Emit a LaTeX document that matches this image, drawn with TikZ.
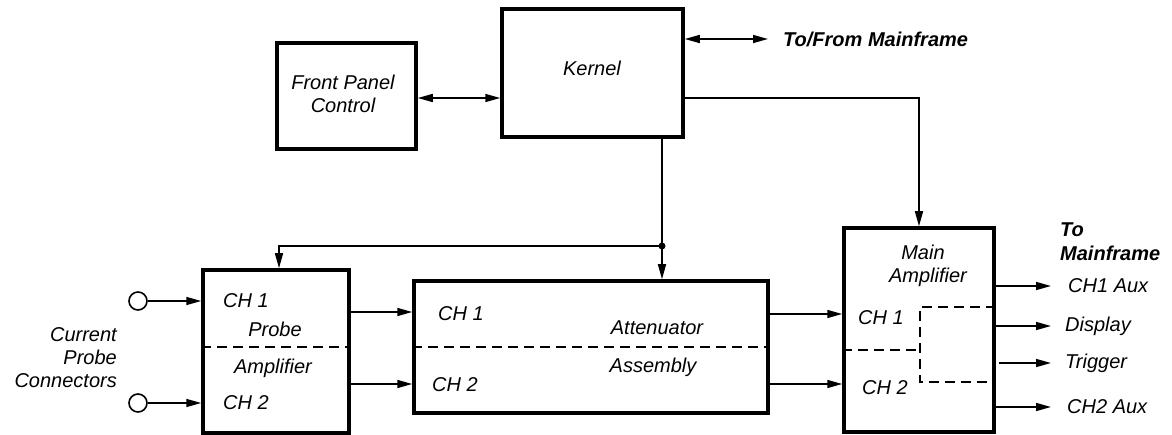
\documentclass[tikz,border=0pt]{standalone}
\usepackage{fontspec}
\setmainfont{Liberation Sans}
\usetikzlibrary{arrows.meta}
\begin{document}
\begin{tikzpicture}[x=1pt,y=-1pt,
  box/.style={draw,line width=3.5pt,inner sep=0pt},
  conn/.style={line width=1.6pt},
  arr/.style={conn,-{Triangle[length=15pt,width=8pt]}},
  darr/.style={conn,{Triangle[length=15pt,width=8pt]}-{Triangle[length=15pt,width=8pt]}},
  dsh/.style={line width=1.6pt,dash pattern=on 10pt off 6pt},
  lbl/.style={font=\itshape\fontsize{20}{24}\selectfont,inner sep=0pt},
  blbl/.style={font=\bfseries\itshape\fontsize{20}{24}\selectfont,inner sep=0pt},
  port/.style={circle,draw,line width=1.6pt,minimum size=18pt,inner sep=0pt}]
\useasboundingbox (0,0) rectangle (1172,435);
% boxes
\node[box,minimum width=139pt,minimum height=106pt] (fp) at (346.5,96) {};
\node[box,minimum width=181pt,minimum height=128pt] (kernel) at (592.5,73) {};
\node[box,minimum width=146pt,minimum height=163pt] (probe) at (276,351.5) {};
\node[box,minimum width=354pt,minimum height=132pt] (atten) at (591,347) {};
\node[box,minimum width=150pt,minimum height=204pt] (main) at (919,330) {};
% labels in boxes
\node[lbl] (fpt1) at (343,82) {Front Panel};
\node[lbl] (fpt2) at (343,105) {Control};
\node[lbl] (kt) at (592,68) {Kernel};
\node[lbl,anchor=west] (p1) at (223,301) {CH 1};
\node[lbl] (p2) at (275,329) {Probe};
\node[lbl] (p3) at (273,368) {Amplifier};
\node[lbl,anchor=west] (p4) at (223,403) {CH 2};
\node[lbl,anchor=west] (a1) at (438,314) {CH 1};
\node[lbl] (a2) at (657,328) {Attenuator};
\node[lbl] (a3) at (653,367) {Assembly};
\node[lbl,anchor=west] (a4) at (432,385) {CH 2};
\node[lbl] (m1) at (923,252) {Main};
\node[lbl] (m2) at (928,277) {Amplifier};
\node[lbl,anchor=west] (m3) at (858,318) {CH 1};
\node[lbl,anchor=west] (m4) at (862,388) {CH 2};
% dashed separators
\draw[dsh] (probe.west |- 0,347) -- (probe.east |- 0,347);
\draw[dsh] (atten.west |- 0,347) -- (atten.east |- 0,347);
\draw[dsh] (main.west |- 0,350) -- (920,350);
\draw[dsh] (main.east |- 0,307) -- (920,307) -- (920,382) -- (main.east |- 0,382);
% outside labels
\node[lbl,align=right,anchor=east,font=\itshape\fontsize{20}{23}\selectfont] (cpc) at (117,358) {Current\\Probe\\Connectors};
\node[blbl,anchor=west] (tf) at (783,39) {To/From Mainframe};
\node[blbl,anchor=west] (tm1) at (1060,230) {To};
\node[blbl,anchor=west] (tm2) at (1060,253) {Mainframe};
\node[lbl,anchor=west] (o1) at (1068,286) {CH1 Aux};
\node[lbl,anchor=west] (o2) at (1065,326) {Display};
\node[lbl,anchor=west] (o3) at (1065,363) {Trigger};
\node[lbl,anchor=west] (o4) at (1067,407) {CH2 Aux};
% ports
\node[port] (c1) at (138,301) {};
\node[port] (c2) at (138,403) {};
% coordinates
\coordinate (j) at (662,246);
\coordinate (tfe) at (768,39);
% connectors
\draw[darr] (fp.east |- 0,98) -- (kernel.west |- 0,98);
\draw[darr] (kernel.east |- tfe) -- (tfe);
\draw[arr] (kernel.east |- 0,98) -| (main.north);
\draw[conn] (kernel.south -| j) -- (j);
\draw[arr] (j) -- (atten.north -| j);
\draw[arr] (j) -| ([xshift=3pt]probe.north);
\fill (j) circle (3.5pt);
\draw[arr] (c1) -- (probe.west |- c1);
\draw[arr] (c2) -- (probe.west |- c2);
\draw[arr] (probe.east |- 0,312) -- (atten.west |- 0,312);
\draw[arr] (probe.east |- 0,384) -- (atten.west |- 0,384);
\draw[arr] (atten.east |- 0,314) -- (main.west |- 0,314);
\draw[arr] (atten.east |- 0,384) -- (main.west |- 0,384);
\draw[arr] (main.east |- o1) -- ([xshift=-17pt]o1.west);
\draw[arr] (main.east |- o2) -- ([xshift=-14pt]o2.west);
\draw[arr] ([xshift=3pt]main.east |- o3) -- ([xshift=-14pt]o3.west);
\draw[arr] (main.east |- o4) -- ([xshift=-16pt]o4.west);
\end{tikzpicture}
\end{document}
